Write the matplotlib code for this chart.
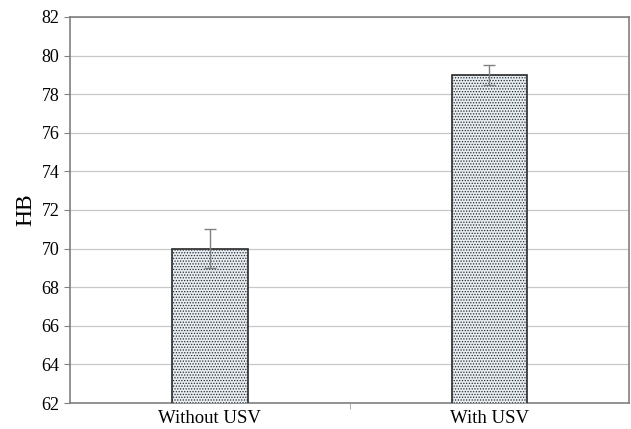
import matplotlib.pyplot as plt
import matplotlib as mpl

# data
categories = ["Without USV", "With USV"]
hb_values = [70, 79]
hb_errors = [1.0, 0.5]
y_ticks = [62, 64, 66, 68, 70, 72, 74, 76, 78, 80, 82]

plt.rcParams["font.family"] = ["Liberation Serif", "DejaVu Serif"]
mpl.rcParams["hatch.color"] = "#b3c4d2"
mpl.rcParams["hatch.linewidth"] = 0.6

fig = plt.figure(figsize=(6.31, 4.29), dpi=100)
ax = fig.add_axes([0.111, 0.0606, 0.886, 0.8998])

x = range(len(categories))
ax.bar(x, hb_values, width=0.27, bottom=0, color="#e6edf3",
       edgecolor="#2a2a2a", linewidth=1.2, hatch="......", zorder=3)
ax.errorbar(x, hb_values, yerr=hb_errors, fmt="none", ecolor="#808080",
            elinewidth=1, capsize=4, capthick=1, zorder=4)

ax.set_ylim(62, 82)
ax.set_xlim(-0.5, 1.5)
ax.set_yticks(y_ticks)
ax.set_xticks(list(x))
ax.set_xticklabels(categories)
ax.set_xticks([0.5], minor=True)
ax.tick_params(axis="x", which="major", length=0, labelsize=13.5, pad=5)
ax.tick_params(axis="x", which="minor", length=4, color="#a0a0a0")
ax.tick_params(axis="y", length=4, color="#808080", labelsize=13)
ax.yaxis.grid(True, color="#c8c8c8", linewidth=0.9, zorder=0)
ax.set_axisbelow(True)
for s in ax.spines.values():
    s.set_color("#808080")
    s.set_linewidth(1.2)
ax.set_ylabel("HB", fontsize=17, labelpad=4)

fig.savefig("out.png", dpi=100)
